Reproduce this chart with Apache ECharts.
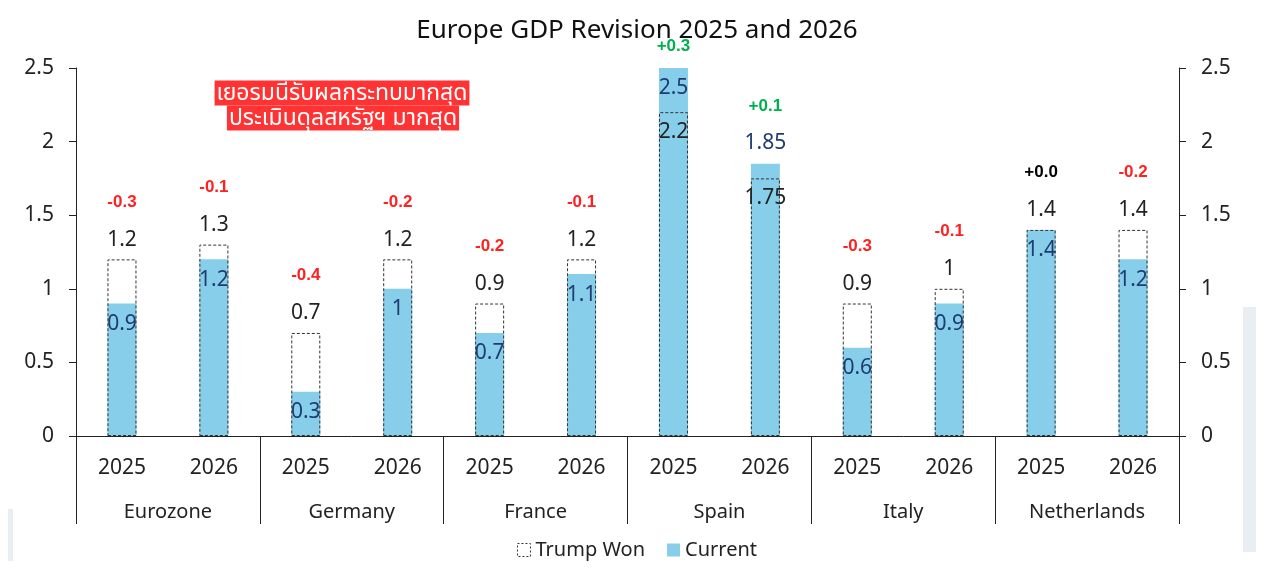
<!DOCTYPE html>
<html>
<head>
<meta charset="utf-8">
<script src="https://cdn.jsdelivr.net/npm/echarts@6/dist/echarts.min.js"></script>
<style>
html,body{margin:0;padding:0;background:#fff;}
#c{width:1274px;height:584px;}
</style>
</head>
<body>
<div id="c"></div>
<script>
// ---- data ----
const years = ['2025','2026','2025','2026','2025','2026','2025','2026','2025','2026','2025','2026'];
const countries = ['Eurozone','Germany','France','Spain','Italy','Netherlands'];
const trumpWon = [1.2, 1.3, 0.7, 1.2, 0.9, 1.2, 2.2, 1.75, 0.9, 1.0, 1.4, 1.4];
const current  = [0.9, 1.2, 0.3, 1.0, 0.7, 1.1, 2.5, 1.85, 0.6, 0.9, 1.4, 1.2];
const revision = ['-0.3','-0.1','-0.4','-0.2','-0.2','-0.1','+0.3','+0.1','-0.3','-0.1','+0.0','-0.2'];
const yTicks = [0, 0.5, 1, 1.5, 2, 2.5];

const FONT = '"Noto Sans", "Noto Sans Thai", sans-serif';
const chart = echarts.init(document.getElementById('c'), null, {renderer:'canvas'});

function revColor(s){
  const v = parseFloat(s);
  if (v > 0) return '#00B050';
  if (v < 0) return '#FF2020';
  return '#000000';
}

const currentData = current.map((v,i)=>{
  const above = v > trumpWon[i];
  return {value: v, label: {position: above && v < 2.4 ? 'top' : 'insideTop'}};
});
const trumpData = trumpWon.map((v,i)=>{
  const below = current[i] > v;
  return {value: v, label: {position: below ? 'insideTop' : 'top'}};
});
const revData = revision.map((r,i)=>{
  const top = Math.max(trumpWon[i], current[i]);
  return {value: top, label: {formatter: r, color: revColor(r), distance: top >= 2.4 ? 13 : 49}};
});

const option = {
  animation: false,
  backgroundColor: '#ffffff',
  textStyle: {fontFamily: FONT},
  title: {
    text: 'Europe GDP Revision 2025 and 2026',
    left: 'center', top: 13,
    textStyle: {fontFamily: FONT, fontSize: 26, fontWeight: 'normal', color: '#111'}
  },
  legend: {
    data: [
      {name:'Trump Won', icon:'rect', itemStyle:{color:'#fff', borderColor:'#333', borderWidth:1, borderType:[2,2]}},
      {name:'Current', icon:'rect'}
    ],
    bottom: 19, left: 'center',
    itemWidth: 13, itemHeight: 13, itemGap: 22,
    textStyle: {fontFamily: FONT, fontSize: 20, color: '#222'}
  },
  grid: {left: 76, right: 95, top: 68, bottom: 148, containLabel: false},
  xAxis: [
    {
      type: 'category', data: years, position: 'bottom',
      axisLine: {show: true, lineStyle: {color: '#222', width: 1}},
      axisTick: {show: false},
      axisLabel: {fontFamily: FONT, fontSize: 21, color: '#222', margin: 22}
    },
    {
      type: 'category', data: countries, position: 'bottom',
      axisLine: {show: false},
      axisTick: {show: true, inside: false, length: 88, lineStyle: {color: '#222', width: 1}},
      axisLabel: {fontFamily: FONT, fontSize: 20, color: '#222', margin: 66}
    }
  ],
  yAxis: [
    {
      type: 'value', min: 0, max: 2.5, interval: 0.5, position: 'left',
      axisLine: {show: true, lineStyle: {color: '#222'}},
      axisTick: {show: true, length: 7, lineStyle: {color: '#222'}},
      splitLine: {show: false},
      axisLabel: {fontFamily: FONT, fontSize: 21, color: '#222', margin: 22,
        formatter: v => String(v)}
    },
    {
      type: 'value', min: 0, max: 2.5, interval: 0.5, position: 'right',
      axisLine: {show: true, lineStyle: {color: '#222'}},
      axisTick: {show: true, length: 7, lineStyle: {color: '#222'}},
      splitLine: {show: false},
      axisLabel: {fontFamily: FONT, fontSize: 21, color: '#222', margin: 22,
        formatter: v => String(v)}
    }
  ],
  series: [
    {
      name: 'Current', type: 'bar', xAxisIndex: 0, yAxisIndex: 0,
      barWidth: 29, barGap: '-100%', z: 2,
      itemStyle: {color: '#87CEEB'},
      label: {show: true, position: 'insideTop', distance: 10,
        fontFamily: FONT, fontSize: 21, color: '#1F3B73'},
      data: currentData
    },
    {
      name: 'Trump Won', type: 'bar', xAxisIndex: 0, yAxisIndex: 0,
      barWidth: 29, barGap: '-100%', z: 3,
      itemStyle: {color: 'rgba(255,255,255,0)', borderColor: '#333', borderWidth: 1, borderType: [3,2]},
      label: {show: true, position: 'top', distance: 9,
        fontFamily: FONT, fontSize: 21, color: '#222'},
      data: trumpData
    },
    {
      name: 'rev', type: 'bar', xAxisIndex: 0, yAxisIndex: 0,
      barWidth: 29, barGap: '-100%', z: 1, silent: true,
      itemStyle: {color: 'rgba(0,0,0,0)'},
      label: {show: true, position: 'top', fontFamily: 'Arial, "Liberation Sans", sans-serif', fontSize: 17, fontWeight: 'bold'},
      data: revData
    }
  ],
  graphic: [
    {type:'text', x: 342, y: 93,
      style:{text:'เยอรมนีรับผลกระทบมากสุด', fill:'#fff', backgroundColor:'#FF3333',
        font: '23px ' + FONT, align:'center', verticalAlign:'middle', padding:[1,2,1,2]}},
    {type:'text', x: 343, y: 118,
      style:{text:'ประเมินดุลสหรัฐฯ มากสุด', fill:'#fff', backgroundColor:'#FF3333',
        font: '23px ' + FONT, align:'center', verticalAlign:'middle', padding:[1,2,1,2]}},
    {type:'rect', shape:{x:1243, y:307, width:13, height:245}, style:{fill:'#E9EEF3'}, silent:true},
    {type:'rect', shape:{x:8, y:509, width:5, height:52}, style:{fill:'#E9EEF3'}, silent:true}
  ]
};
chart.setOption(option);
</script>
</body>
</html>
